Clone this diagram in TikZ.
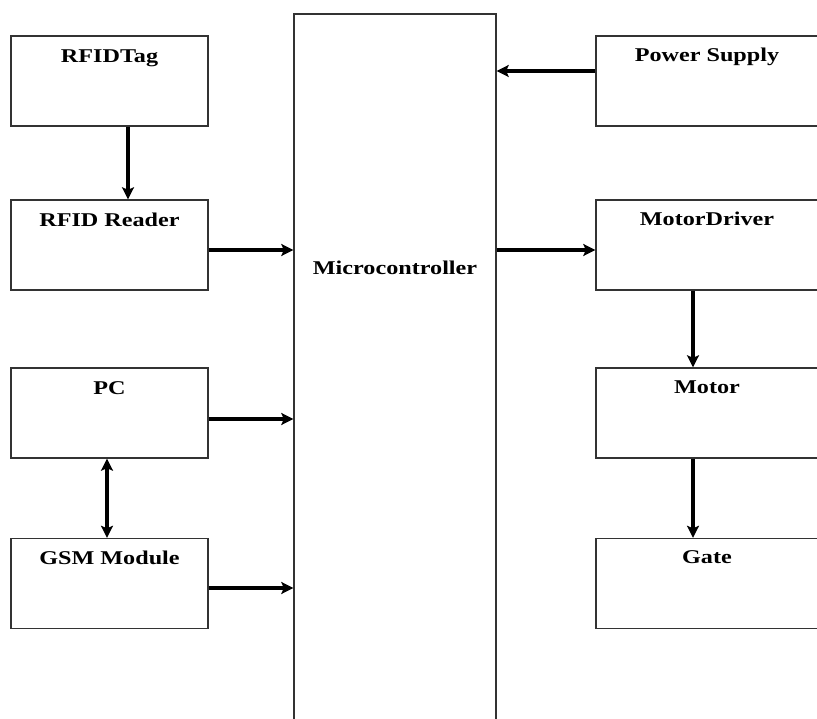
\documentclass[tikz,border=0pt]{standalone}
\usepackage{fontspec}
\setmainfont{Liberation Serif}[FakeStretch=1.24]
\usetikzlibrary{arrows.meta}
\begin{document}
\begin{tikzpicture}[x=1pt,y=-1pt,
  blk/.style={draw=black!80,line width=1.4pt,rectangle,inner sep=0pt},
  lblk/.style={blk,minimum width=197pt,minimum height=90pt},
  rblk/.style={blk,minimum width=222pt,minimum height=90pt},
  lab/.style={anchor=base,inner sep=0pt,font=\fontsize{19.5}{22}\selectfont\bfseries},
  tip/.tip={Stealth[length=12pt,width=12pt,inset=2.5pt]},
  arr/.style={line width=3.4pt,-tip},
  darr/.style={line width=3.4pt,tip-tip}]
\useasboundingbox (0,0) rectangle (817,719);
% left column
\node[lblk] (tag) at (109.5,81) {};
\node[lblk] (reader) at (109.5,245) {};
\node[lblk] (pc) at (109.5,413) {};
\node[lblk] (gsm) at (109.5,583.5) {};
% microcontroller
\node[blk,minimum width=202pt,minimum height=726pt] (mc) at (395,377) {};
% right column
\node[rblk] (ps) at (707,81) {};
\node[rblk] (drv) at (707,245) {};
\node[rblk] (motor) at (707,413) {};
\node[rblk] (gate) at (707,583.5) {};
% labels
\node[lab] (tagl) at ([yshift=-27pt]tag.north) {RFIDTag};
\node[lab] (readerl) at ([yshift=-27pt]reader.north) {RFID Reader};
\node[lab] (pcl) at ([yshift=-27pt]pc.north) {PC};
\node[lab] (gsml) at ([yshift=-27pt]gsm.north) {GSM Module};
\node[lab] (mcl) at (395,275) {Microcontroller};
\node[lab] (psl) at ([yshift=-26pt]ps.north) {Power Supply};
\node[lab] (drvl) at ([yshift=-26pt]drv.north) {MotorDriver};
\node[lab] (motorl) at ([yshift=-26pt]motor.north) {Motor};
\node[lab] (gatel) at ([yshift=-26pt]gate.north) {Gate};
% connectors
\draw[arr] ([xshift=18.5pt]tag.south) -- ([xshift=18.5pt]reader.north);
\draw[darr] ([xshift=-2.5pt]pc.south) -- ([xshift=-2.5pt]gsm.north);
\draw[arr] ([yshift=-5pt]reader.east) -- ([yshift=-5pt]reader.east -| mc.west);
\draw[arr] ([yshift=-6pt]pc.east) -- ([yshift=-6pt]pc.east -| mc.west);
\draw[arr] ([yshift=-4.5pt]gsm.east) -- ([yshift=-4.5pt]gsm.east -| mc.west);
\draw[arr] ([yshift=10pt]ps.west) -- ([yshift=10pt]ps.west -| mc.east);
\draw[arr] ([yshift=-5pt]drv.west -| mc.east) -- ([yshift=-5pt]drv.west);
\draw[arr] ([xshift=-14pt]drv.south) -- ([xshift=-14pt]motor.north);
\draw[arr] ([xshift=-14pt]motor.south) -- ([xshift=-14pt]gate.north);
\end{tikzpicture}
\end{document}
